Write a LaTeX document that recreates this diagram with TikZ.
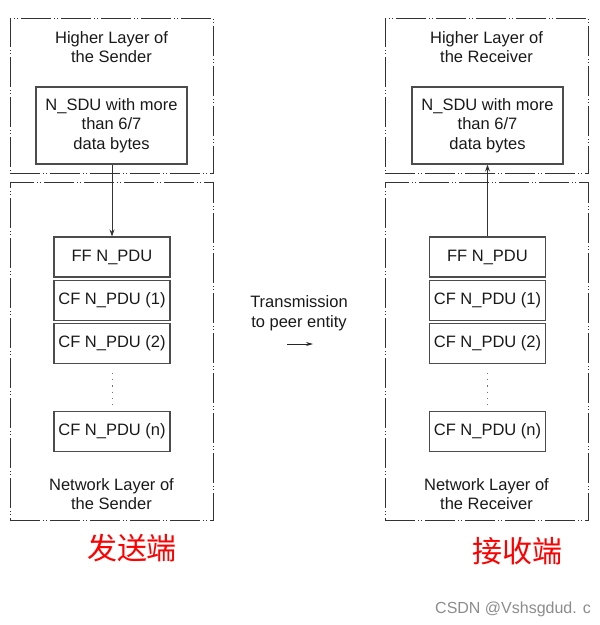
\documentclass[tikz,border=0pt]{standalone}
\usepackage{fontspec}
\setmainfont{Liberation Sans}
\newfontfamily\cjk{Noto Sans CJK SC}
\usetikzlibrary{arrows.meta}
\begin{document}
\begin{tikzpicture}[x=1pt,y=-1pt,
 layerbox/.style={draw=black!80, line width=0.9pt, dash pattern=on 30pt off 3pt on 1pt off 2pt on 1pt off 3pt, minimum width=203pt, inner sep=0pt},
 sdubox/.style={draw=black!70, line width=1.1pt, minimum width=151pt, minimum height=77pt, inner sep=0pt, align=center, font=\fontsize{16.5}{19.5}\selectfont, text=black!90},
 pdubox/.style={draw=black!70, line width=1.1pt, minimum width=116pt, minimum height=40pt, inner sep=0pt, font=\fontsize{16.5}{19}\selectfont, text=black!90},
 lbl/.style={align=center, font=\fontsize{16.5}{19.5}\selectfont, text=black!90, inner sep=0pt},
 arr/.style={draw=black!80, line width=1pt, -{Stealth[length=7pt,width=5pt]}},
 dotline/.style={draw=black!55, line width=1pt, dash pattern=on 1.2pt off 5pt},
 cjklbl/.style={font=\cjk\fontsize{30}{32}\selectfont, text=red, inner sep=0pt},
]
\useasboundingbox (0,0) rectangle (600,625);
% sender side
\node[layerbox, minimum height=155pt] (hsL) at (111.5,95.5) {};
\node[layerbox, minimum height=338pt] (nwL) at (111.5,351) {};
\node[lbl] (hsLt) at (111.5,47) {Higher Layer of\\the Sender};
\node[sdubox] (sduL) at (111.5,125.5) {N\_SDU with more\\than 6/7\\data bytes};
\node[pdubox] (ffL) at (112,257) {FF N\_PDU};
\node[pdubox] (cf1L) at (112,300.5) {CF N\_PDU (1)};
\node[pdubox] (cf2L) at (112,343.5) {CF N\_PDU (2)};
\node[pdubox] (cfnL) at (112,431.5) {CF N\_PDU (n)};
\node[lbl] (nwLt) at (111.5,494) {Network Layer of\\the Sender};
\draw[arr] (sduL.south -| ffL.north) -- (ffL.north);
\draw[dotline] ([yshift=-9pt]cf2L.south) -- ([yshift=3pt]cfnL.north);
% receiver side
\node[layerbox, minimum height=155pt] (hsR) at (486.5,95.5) {};
\node[layerbox, minimum height=338pt] (nwR) at (486.5,351) {};
\node[lbl] (hsRt) at (486.5,47) {Higher Layer of\\the Receiver};
\node[sdubox] (sduR) at (487.5,125.5) {N\_SDU with more\\than 6/7\\data bytes};
\node[pdubox] (ffR) at (487.5,257) {FF N\_PDU};
\node[pdubox] (cf1R) at (487.5,300.5) {CF N\_PDU (1)};
\node[pdubox] (cf2R) at (487.5,343.5) {CF N\_PDU (2)};
\node[pdubox] (cfnR) at (487.5,431.5) {CF N\_PDU (n)};
\node[lbl] (nwRt) at (486.5,494) {Network Layer of\\the Receiver};
\draw[arr] (ffR.north) -- (ffR.north |- sduR.south);
\draw[dotline] ([yshift=-9pt]cf2R.south) -- ([yshift=3pt]cfnR.north);
% transmission
\node[lbl] (tx) at (299,313) {Transmission\\to peer entity};
\coordinate (txa) at (287,344);
\coordinate (txb) at (313,344);
\draw[draw=black!85, line width=0.8pt, -{Stealth[length=7pt,width=4pt]}] (txa) -- (txb);
% labels
\node[cjklbl] (snd) at (132,548) {发送端};
\node[cjklbl] (rcv) at (517,551) {接收端};
\node[font=\fontsize{16}{18}\selectfont, text=black!45, inner sep=0pt] (wm) at (513,609) {CSDN @Vshsgdud. c};
\end{tikzpicture}
\end{document}
